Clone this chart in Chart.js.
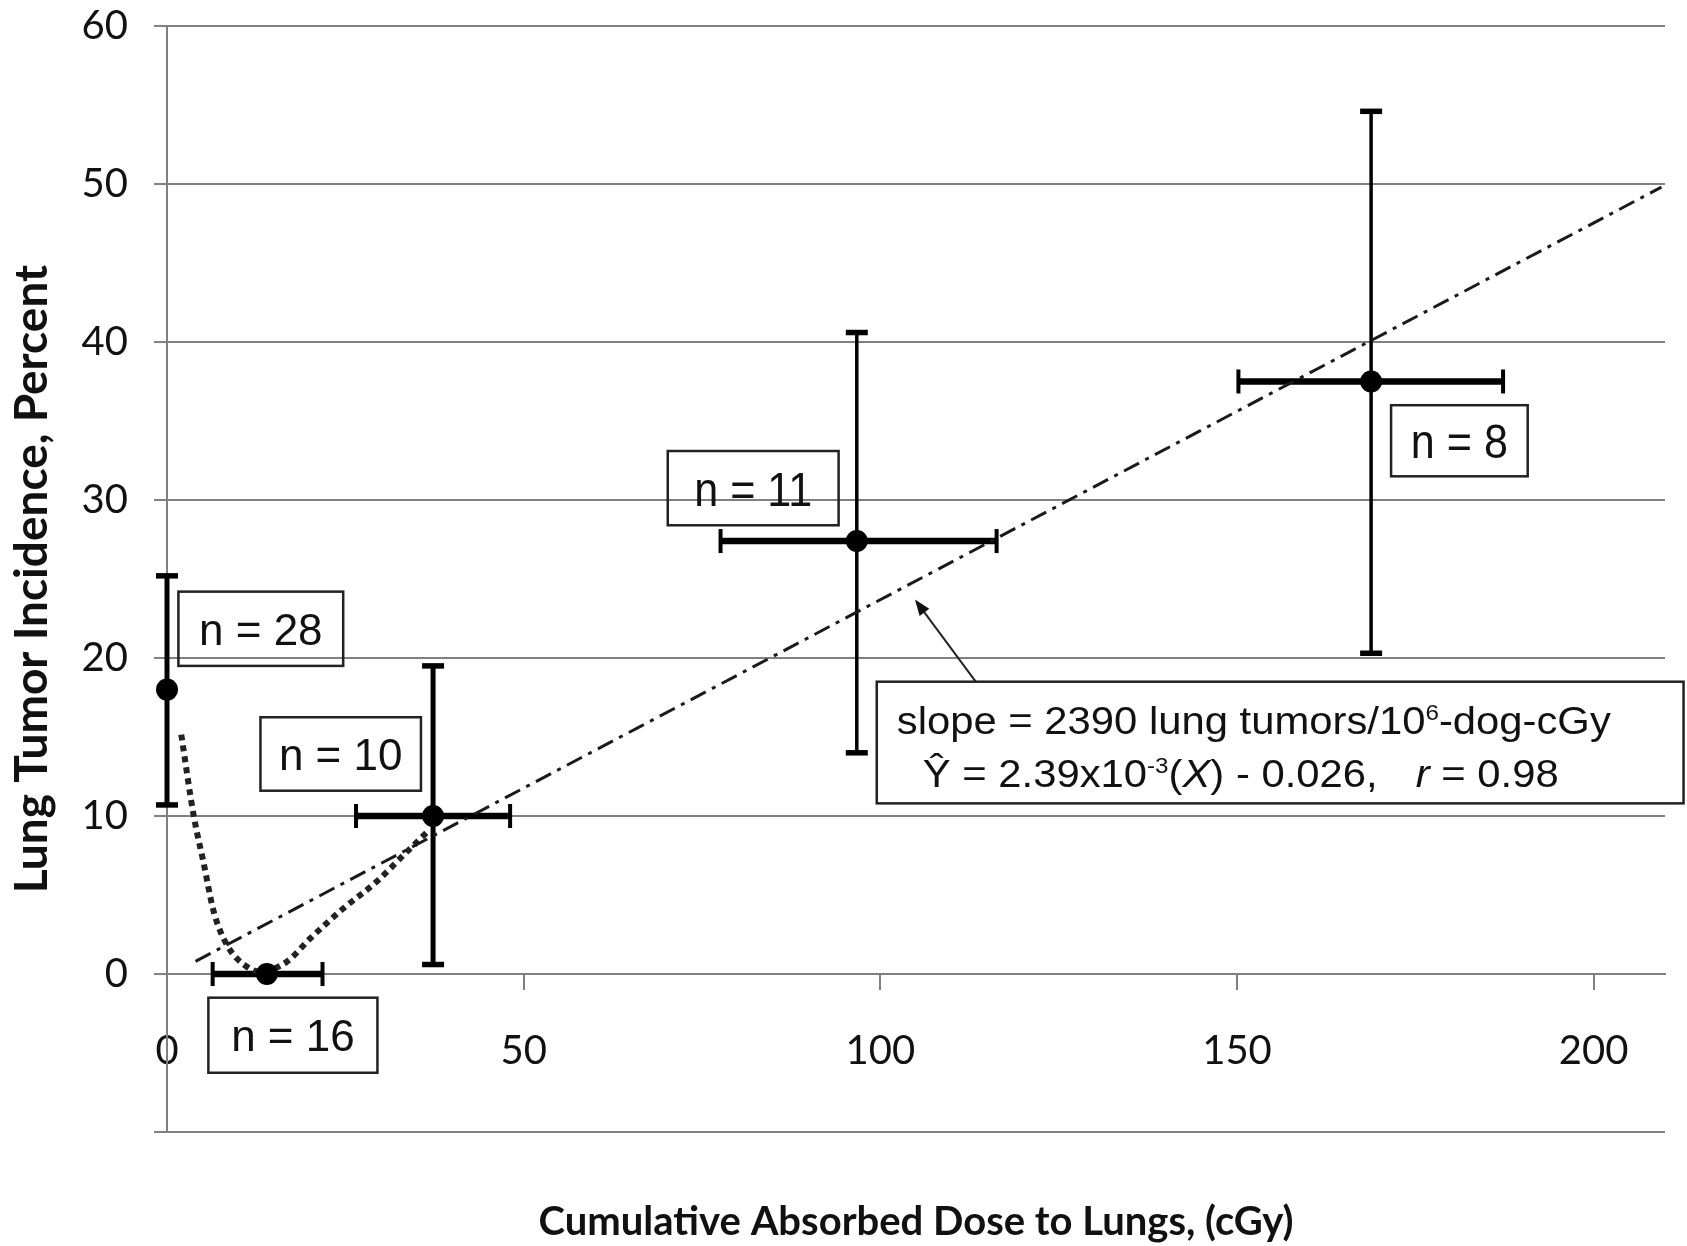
<!DOCTYPE html>
<html>
<head>
<meta charset="utf-8">
<title>Lung tumor incidence vs cumulative absorbed dose</title>
<script src="https://cdn.jsdelivr.net/npm/chart.js@4.4.1/dist/chart.umd.min.js"></script>
<style>
  html, body { margin: 0; padding: 0; background: #fff; }
  #wrap { width: 1687px; height: 1246px; position: relative; }
</style>
</head>
<body>
<div id="wrap"><canvas id="doseChart"></canvas></div>
<script>
// ----------------------------
// DATA
// ----------------------------
const doseX = [0, 14, 37.3, 96.7, 168.8];
const incidenceY = [18, 0, 10, 27.4, 37.5];
const doseLow = [null, 6.4, 26.5, 77.6, 150.2];
const doseHigh = [null, 21.8, 48.1, 116.3, 187.3];
const incidenceLow = [10.7, null, 0.6, 14.0, 20.3];
const incidenceHigh = [25.2, null, 19.5, 40.6, 54.6];
const groupSizes = ["n = 28", "n = 16", "n = 10", "n = 11", "n = 8"];

// linear fit (dash-dot)
const fitX = [4, 209.5];
const fitY = [0.8, 49.8];

// dotted curve near the origin
const curveX = [2.0, 3.75, 5.1, 6.55, 8.4, 11.2, 13.1, 16.8, 20.1, 24.75, 29.4, 33.2, 36.5];
const curveY = [15.15, 10, 7.1, 3.95, 1.84, 0.46, 0.15, 0.78, 2.26, 4.16, 5.85, 7.54, 9.0];

const xTicks = [0, 50, 100, 150, 200];
const yTicks = [-10, 0, 10, 20, 30, 40, 50, 60];

// ----------------------------
// ANNOTATION LAYOUT (data units)
// ----------------------------
const noteLayout = [
  { box: [1.6, 24.7, 24.2, 19.5], size: 44, stretch: 1 },
  { box: [5.8, 29.5, -1.5, -6.25], size: 44, stretch: 1 },
  { box: [13.1, 35.6, 16.25, 11.6], size: 44, stretch: 1 },
  { box: [70.2, 94.15, 33.1, 28.4], size: 49, stretch: 0.88 },
  { box: [171.6, 190.75, 36.0, 31.5], size: 49, stretch: 0.88 },
];
const eqBox = [99.5, 212.6, 18.5, 10.8];
const arrowFrom = [113.45, 18.46];
const arrowTo = [104.85, 23.7];

const GRID = "#808080";
const INK = "#111";
const ARIAL = '"Liberation Sans", Arial, sans-serif';

function toPoints(xs, ys) {
  return xs.map((v, i) => ({ x: v, y: ys[i] }));
}

function strokeLine(ctx, x1, y1, x2, y2) {
  ctx.beginPath();
  ctx.moveTo(x1, y1);
  ctx.lineTo(x2, y2);
  ctx.stroke();
}

// draws text with optional horizontal stretch, returns drawn width
function stretchedText(ctx, str, x, y, size, sx, align, style) {
  ctx.save();
  ctx.font = (style || "") + " " + size + "px " + ARIAL;
  ctx.translate(x, y);
  ctx.scale(sx, 1);
  ctx.textAlign = align || "left";
  ctx.textBaseline = "alphabetic";
  ctx.fillText(str, 0, 0);
  const w = ctx.measureText(str).width * sx;
  ctx.restore();
  return w;
}

// ----------------------------
// ERROR BARS
// ----------------------------
const errorBars = {
  id: "errorBars",
  beforeDatasetsDraw(chart) {
    const { ctx, scales: { x, y } } = chart;
    ctx.save();
    ctx.strokeStyle = "#000";
    ctx.lineCap = "butt";
    doseX.forEach((dx, i) => {
      const px = x.getPixelForValue(dx);
      const py = y.getPixelForValue(incidenceY[i]);
      if (incidenceLow[i] !== null) {
        const top = y.getPixelForValue(incidenceHigh[i]);
        const bot = y.getPixelForValue(incidenceLow[i]);
        ctx.lineWidth = i > 2 ? 3.5 : 5;
        strokeLine(ctx, px, top, px, bot);
        ctx.lineWidth = 5.5;
        strokeLine(ctx, px - 11, top, px + 11, top);
        strokeLine(ctx, px - 11, bot, px + 11, bot);
      }
      if (doseLow[i] !== null) {
        const l = x.getPixelForValue(doseLow[i]);
        const r = x.getPixelForValue(doseHigh[i]);
        ctx.lineWidth = 6.5;
        strokeLine(ctx, l, py, r, py);
        ctx.lineWidth = 4;
        strokeLine(ctx, l, py - 12, l, py + 12);
        strokeLine(ctx, r, py - 12, r, py + 12);
      }
    });
    ctx.restore();
  },
};

// ----------------------------
// LABEL BOXES, EQUATION, ARROW
// ----------------------------
const notes = {
  id: "notes",
  afterDatasetsDraw(chart) {
    const { ctx, scales: { x, y } } = chart;
    ctx.save();
    ctx.fillStyle = INK;
    ctx.strokeStyle = "#222";
    ctx.lineWidth = 2.5;

    noteLayout.forEach((n, i) => {
      const l = x.getPixelForValue(n.box[0]);
      const r = x.getPixelForValue(n.box[1]);
      const t = y.getPixelForValue(n.box[2]);
      const b = y.getPixelForValue(n.box[3]);
      ctx.strokeRect(l, t, r - l, b - t);
      const cy = (t + b) / 2 + n.size * 0.358;
      stretchedText(ctx, groupSizes[i], (l + r) / 2, cy, n.size, n.stretch, "center");
    });

    // equation box
    const el = x.getPixelForValue(eqBox[0]);
    const er = x.getPixelForValue(eqBox[1]);
    const et = y.getPixelForValue(eqBox[2]);
    const eb = y.getPixelForValue(eqBox[3]);
    ctx.strokeRect(el, et, er - el, eb - et);

    const fs = 38, sx = 1.1, sup = 22;
    let cx = el + 20;
    const base1 = et + 52;
    cx += stretchedText(ctx, "slope = 2390 lung tumors/10", cx, base1, fs, sx);
    cx += stretchedText(ctx, "6", cx, base1 - 14, sup, sx);
    stretchedText(ctx, "-dog-cGy", cx, base1, fs, sx);

    cx = el + 46;
    const base2 = et + 105;
    cx += stretchedText(ctx, "\u0176 = 2.39x10", cx, base2, fs, sx);
    cx += stretchedText(ctx, "-3", cx, base2 - 14, sup, sx);
    cx += stretchedText(ctx, "(", cx, base2, fs, sx);
    cx += stretchedText(ctx, "X", cx, base2, fs, sx, "left", "italic");
    cx += stretchedText(ctx, ")", cx, base2, fs, sx);
    stretchedText(ctx, " - 0.026,", cx, base2, fs, sx);
    cx = el + 539;
    cx += stretchedText(ctx, "r", cx, base2, fs, sx, "left", "italic");
    stretchedText(ctx, " = 0.98", cx, base2, fs, sx);

    // arrow pointing at the fit line
    const ax1 = x.getPixelForValue(arrowFrom[0]);
    const ay1 = y.getPixelForValue(arrowFrom[1]);
    const ax2 = x.getPixelForValue(arrowTo[0]);
    const ay2 = y.getPixelForValue(arrowTo[1]);
    const ang = Math.atan2(ay2 - ay1, ax2 - ax1);
    ctx.lineWidth = 2;
    strokeLine(ctx, ax1, ay1, ax2 - 10 * Math.cos(ang), ay2 - 10 * Math.sin(ang));
    ctx.beginPath();
    ctx.moveTo(ax2, ay2);
    ctx.lineTo(ax2 - 16 * Math.cos(ang) + 6 * Math.sin(ang), ay2 - 16 * Math.sin(ang) - 6 * Math.cos(ang));
    ctx.lineTo(ax2 - 16 * Math.cos(ang) - 6 * Math.sin(ang), ay2 - 16 * Math.sin(ang) + 6 * Math.cos(ang));
    ctx.closePath();
    ctx.fill();
    ctx.restore();
  },
};

// ----------------------------
// CHART
// ----------------------------
const ctx = document.getElementById("doseChart");
new Chart(ctx, {
  type: "scatter",
  data: {
    datasets: [
      {
        label: "Incidence",
        data: toPoints(doseX, incidenceY),
        backgroundColor: "#000",
        borderWidth: 0,
        pointRadius: 11,
        clip: false,
      },
      {
        type: "line",
        label: "Fit",
        data: toPoints(fitX, fitY),
        borderColor: "#1a1a1a",
        borderWidth: 3,
        borderDash: [17, 7, 4, 7],
        pointRadius: 0,
        fill: false,
      },
      {
        type: "line",
        label: "Curve",
        data: toPoints(curveX, curveY),
        borderColor: "#222",
        borderWidth: 6,
        borderDash: [6, 5],
        cubicInterpolationMode: "monotone",
        pointRadius: 0,
        fill: false,
      },
    ],
  },
  options: {
    responsive: true,
    maintainAspectRatio: false,
    animation: false,
    events: [],
    layout: { padding: { top: 26, right: 22, left: 0, bottom: 0 } },
    plugins: {
      legend: { display: false },
      tooltip: { enabled: false },
      title: {
        display: true,
        position: "bottom",
        fullSize: false,
        text: "Cumulative Absorbed Dose to Lungs, (cGy)",
        color: INK,
        font: { family: "Lato", weight: "bold", size: 40, lineHeight: 1.2 },
        padding: { top: 66, bottom: 0 },
      },
    },
    scales: {
      x: {
        type: "linear",
        position: { y: 0 },
        min: 0,
        max: 210,
        afterBuildTicks: (s) => {
          s.ticks = xTicks.map((v) => ({ value: v }));
        },
        afterFit: (s) => {
          s.height = 0;
        },
        ticks: {
          color: INK,
          padding: 38,
          font: { family: "Lato", size: 40, lineHeight: 1.2 },
          maxRotation: 0,
        },
        grid: { drawOnChartArea: false, color: GRID, lineWidth: 2, tickLength: 15 },
        border: { display: true, color: GRID, width: 2 },
      },
      y: {
        type: "linear",
        min: -10,
        max: 60,
        afterBuildTicks: (s) => {
          s.ticks = yTicks.map((v) => ({ value: v }));
        },
        afterFit: (s) => {
          s.width = 167;
          s.paddingTop = 0;
          s.paddingBottom = 0;
        },
        ticks: {
          color: INK,
          padding: 26,
          font: { family: "Lato", size: 40, lineHeight: 1.2 },
          callback: (v) => (v < 0 ? "" : v),
        },
        grid: { color: GRID, lineWidth: 2, tickLength: 13 },
        border: { display: true, color: GRID, width: 2 },
        title: {
          display: true,
          text: "Lung Tumor Incidence, Percent",
          color: INK,
          font: { family: "Lato", weight: "bold", size: 46, lineHeight: 1.2 },
          padding: { top: 5, bottom: 0 },
        },
      },
    },
  },
  plugins: [errorBars, notes],
});
</script>
</body>
</html>
